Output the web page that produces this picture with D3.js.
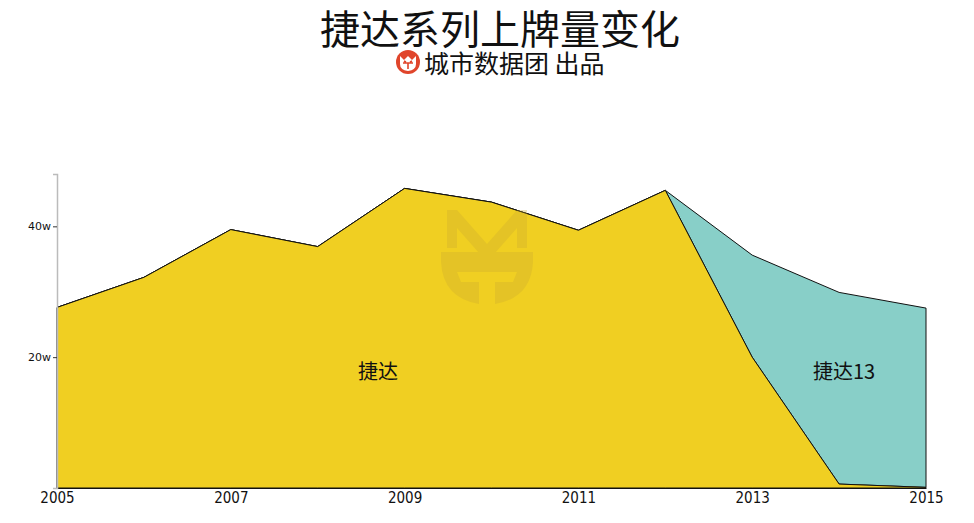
<!DOCTYPE html>
<html>
<head>
<meta charset="utf-8">
<script src="https://cdn.jsdelivr.net/npm/d3@7"></script>
<style>
  body { margin: 0; background: #fff; }
  svg { display: block; font-family: "Noto Sans CJK SC", "Noto Sans", sans-serif; }
</style>
</head>
<body>
<svg id="chart" width="974" height="523"></svg>
<script>
// data (units: w = 10k)
const years = [2005, 2006, 2007, 2008, 2009, 2010, 2011, 2012, 2013, 2014, 2015];
const jetta = [27.6, 32.2, 39.5, 36.9, 45.8, 43.7, 39.4, 45.5, 20.0, 0.6, 0.1];
const jetta13 = [0, 0, 0, 0, 0, 0, 0, 0, 15.6, 29.3, 27.4];
const seriesNames = ["捷达", "捷达13"];
const seriesColors = ["#f0cf22", "#88cfc8"];
const xTicks = [2005, 2007, 2009, 2011, 2013, 2015];
const yTicks = [20, 40];

const width = 974;
const height = 523;
const margin = { top: 174, right: 48, bottom: 35, left: 57 };

const svg = d3.select("#chart");

// title
svg.append("text")
  .attr("x", 500)
  .attr("y", 44)
  .attr("text-anchor", "middle")
  .attr("font-size", 40)
  .attr("fill", "#111")
  .text("捷达系列上牌量变化");

// subtitle with logo
const logo = svg.append("g").attr("transform", "translate(408,62)");
logo.append("circle").attr("r", 12).attr("fill", "#e0452b");
logo.append("path")
  .attr("d", "M-8,-6 L-4,-2 L0,-6 L4,-2 L8,-6 L8,2 Q8,8 0,9 Q-8,8 -8,2 Z")
  .attr("fill", "#fff");
logo.append("path")
  .attr("d", "M-5,1 L5,1 M0,1 L0,7 M-4,-1 L-2,0 M4,-1 L2,0")
  .attr("stroke", "#e0452b")
  .attr("stroke-width", 1.6)
  .attr("fill", "none");

svg.append("text")
  .attr("x", 424)
  .attr("y", 73)
  .attr("font-size", 25)
  .attr("fill", "#111")
  .text("城市数据团 出品");

// scales
const x = d3.scaleLinear()
  .domain([2005, 2015])
  .range([margin.left, width - margin.right]);
const y = d3.scaleLinear()
  .domain([0, 48])
  .range([height - margin.bottom, margin.top]);

// stacked data
const table = years.map((yr, i) => ({ year: yr, a: jetta[i], b: jetta13[i] }));
const stack = d3.stack().keys(["a", "b"]);
const layers = stack(table);

const area = d3.area()
  .x(d => x(d.data.year))
  .y0(d => y(d[0]))
  .y1(d => y(d[1]));

// draw teal first so yellow outline sits on top
const chart = svg.append("g");
layers.slice().reverse().forEach(layer => {
  chart.append("path")
    .datum(layer)
    .attr("d", area)
    .attr("fill", seriesColors[layer.index])
    .attr("stroke", "#111")
    .attr("stroke-width", 1)
    .attr("stroke-linejoin", "round");
});

// watermark
const wm = svg.append("g")
  .attr("transform", "translate(487,258)")
  .attr("opacity", 0.3);
wm.append("path")
  .attr("d", "M-40,-10 L-40,-48 L-30,-48 L0,-14 L30,-48 L40,-48 L40,-10 L30,-10 L30,-30 L0,4 L-30,-30 L-30,-10 Z")
  .attr("fill", "#c9a930");
wm.append("path")
  .attr("d", "M-46,-6 L46,-6 L46,4 Q44,40 8,46 L8,24 L26,24 L30,14 L-30,14 L-26,24 L-8,24 L-8,46 Q-44,40 -46,4 Z")
  .attr("fill", "#c9a930");

// labels inside areas
svg.append("text")
  .attr("x", 378)
  .attr("y", 379)
  .attr("text-anchor", "middle")
  .attr("font-size", 20)
  .attr("fill", "#111")
  .text(seriesNames[0]);
svg.append("text")
  .attr("x", 844)
  .attr("y", 379)
  .attr("text-anchor", "middle")
  .attr("font-size", 20)
  .attr("fill", "#111")
  .text(seriesNames[1]);

// x axis
const xAxis = svg.append("g")
  .attr("transform", `translate(0,${height - margin.bottom})`)
  .call(d3.axisBottom(x).tickValues(xTicks).tickFormat(d3.format("d")).tickSize(0).tickPadding(4));
xAxis.select(".domain").attr("stroke", "#111");
xAxis.selectAll("text")
  .attr("font-family", "'DejaVu Sans Condensed', 'Liberation Sans Narrow', sans-serif")
  .attr("font-size", 15)
  .attr("fill", "#111");

// y axis
const yAxis = svg.append("g")
  .attr("transform", `translate(${margin.left},0)`)
  .call(d3.axisLeft(y).tickValues(yTicks).tickFormat(d => d + "w").tickSize(4).tickPadding(2));
yAxis.select(".domain").attr("stroke", "#bbb").attr("stroke-width", 1.5);
yAxis.selectAll(".tick line").attr("stroke", "#333");
yAxis.selectAll("text")
  .attr("font-family", "'DejaVu Sans', sans-serif")
  .attr("font-size", 11)
  .attr("fill", "#111");
</script>
</body>
</html>
